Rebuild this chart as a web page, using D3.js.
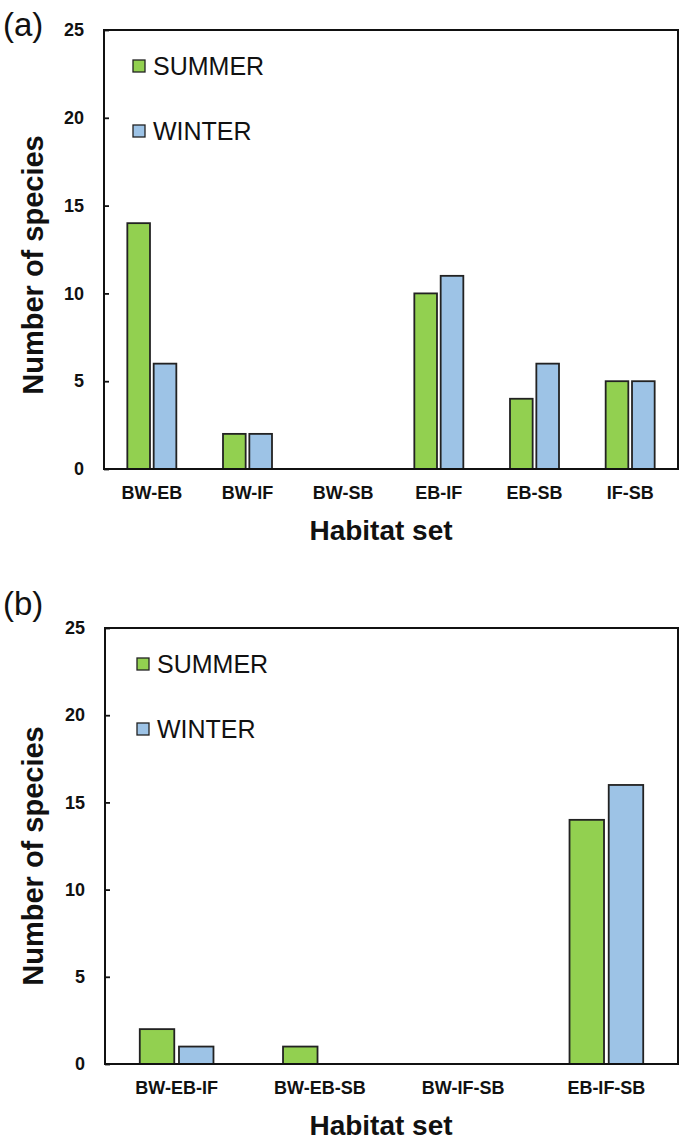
<!DOCTYPE html>
<html><head><meta charset="utf-8">
<script src="https://cdn.jsdelivr.net/npm/d3@7"></script>
<style>body{margin:0;background:#fff;font-family:Arial,"Liberation Sans",sans-serif;}</style>
</head><body><svg id="c" width="685" height="1144"></svg>
<script>
const catsA = ["BW-EB","BW-IF","BW-SB","EB-IF","EB-SB","IF-SB"];
const summerA = [14,2,0,10,4,5];
const winterA = [6,2,0,11,6,5];
const catsB = ["BW-EB-IF","BW-EB-SB","BW-IF-SB","EB-IF-SB"];
const summerB = [2,1,0,14];
const winterB = [1,0,0,16];
const yTicks = [0,5,10,15,20,25];
const seriesNames = ["SUMMER","WINTER"];
const colors = ["#92d050","#9dc3e6"];

const FF = "Arial,'Liberation Sans',sans-serif";
const svg = d3.select("#c").attr("font-family", FF);

function panel(o){
  const g = svg.append("g");
  const x = d3.scaleBand().domain(o.cats).range([o.left,o.right]);
  const y = d3.scaleLinear().domain([0,25]).range([o.bottom,o.top]);
  const inner = d3.scaleBand().domain([0,1]).range([0,o.groupW]).paddingInner(o.gapFrac);
  const data = o.cats.map((c,i)=>({c, v:[o.s[i],o.w[i]]}));
  data.forEach(d=>{
    d.v.forEach((v,k)=>{
      if(v<=0) return;
      g.append("rect")
        .attr("x", x(d.c)+x.bandwidth()/2-o.groupW/2+inner(k))
        .attr("y", y(v))
        .attr("width", inner.bandwidth())
        .attr("height", y(0)-y(v))
        .attr("fill", colors[k]).attr("stroke","#222").attr("stroke-width",1.8);
    });
  });
  g.append("rect").attr("x",o.left).attr("y",o.top).attr("width",o.right-o.left).attr("height",o.bottom-o.top)
    .attr("fill","none").attr("stroke","#111").attr("stroke-width",2);
  const ya = d3.axisLeft(y).tickValues(yTicks).tickSize(-5).tickPadding(20);
  const yg = g.append("g").attr("transform",`translate(${o.left},0)`).call(ya);
  yg.select(".domain").remove();
  yg.selectAll("line").attr("stroke","#111").attr("stroke-width",1.8);
  yg.selectAll("text").attr("font-size",18).attr("font-weight","bold").attr("fill","#111").attr("font-family",FF);
  const xa = d3.axisBottom(x).tickSize(0).tickPadding(17);
  const xg = g.append("g").attr("transform",`translate(0,${o.bottom})`).call(xa);
  xg.select(".domain").remove();
  xg.selectAll("text").attr("font-size",18).attr("font-weight","bold").attr("fill","#111").attr("font-family",FF);
  g.append("text").attr("x",o.xTitleX).attr("y",o.xTitleY).attr("text-anchor","middle")
    .attr("font-size",28).attr("font-weight","bold").attr("fill","#111").text("Habitat set");
  g.append("text").attr("transform",`translate(${o.yTitleX},${o.yTitleY}) rotate(-90)`).attr("text-anchor","middle")
    .attr("font-size",29).attr("font-weight","bold").attr("fill","#111").text("Number of species");
  g.append("text").attr("x",3).attr("y",o.labY).attr("font-size",33).attr("fill","#111").text(o.label);
  seriesNames.forEach((n,k)=>{
    const ly = o.legY[k];
    g.append("rect").attr("x",o.legX).attr("y",ly-6).attr("width",12).attr("height",12)
      .attr("fill",colors[k]).attr("stroke","#222").attr("stroke-width",1.3);
    g.append("text").attr("x",o.legX+20).attr("y",ly).attr("dy","0.36em").attr("font-size",25).attr("fill","#111").text(n);
  });
}

panel({cats:catsA,s:summerA,w:winterA,left:104,right:678,top:30,bottom:469,groupW:49,gapFrac:0.14,
  xTitleX:381,xTitleY:540,yTitleX:43,yTitleY:265,label:"(a)",labY:36,legX:133,legY:[66,131]});
panel({cats:catsB,s:summerB,w:winterB,left:105,right:678,top:628,bottom:1064,groupW:73.7,gapFrac:0.12,
  xTitleX:381,xTitleY:1135,yTitleX:43,yTitleY:856,label:"(b)",labY:615,legX:137,legY:[664,729]});
</script></body></html>
